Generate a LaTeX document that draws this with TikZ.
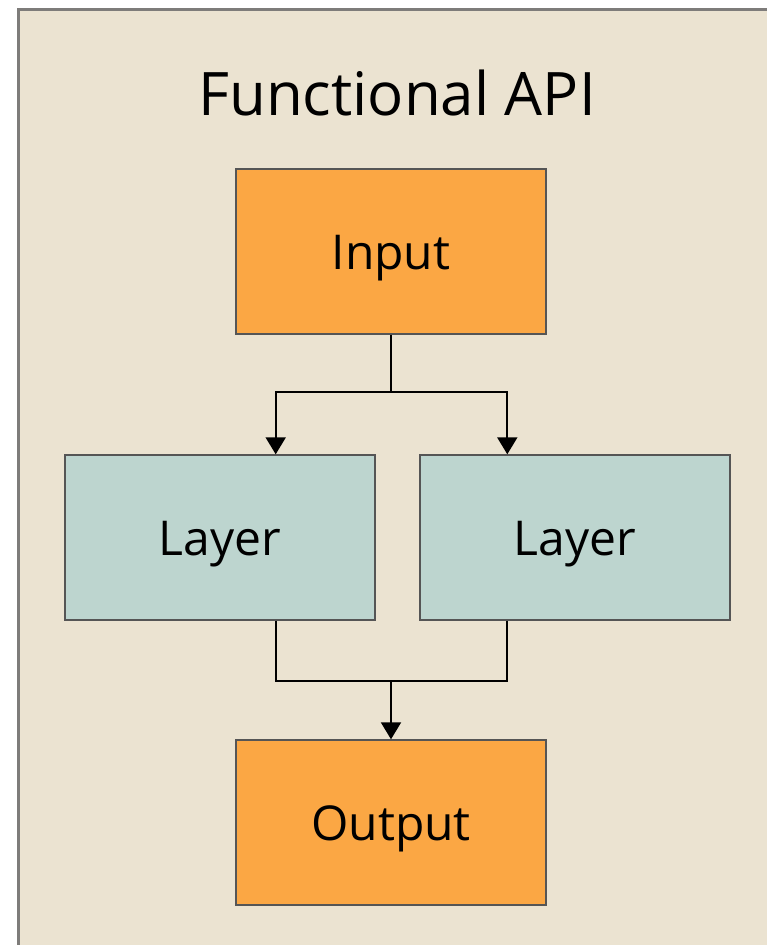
\documentclass[tikz,border=0pt]{standalone}
\usepackage{fontspec}
\setmainfont{Open Sans}
\usetikzlibrary{arrows.meta}
\definecolor{panelbg}{HTML}{EBE3D1}
\definecolor{panelrim}{HTML}{7E7C7A}
\definecolor{ioorange}{HTML}{FBA744}
\definecolor{layerteal}{HTML}{BDD5CF}
\definecolor{boxrim}{HTML}{555555}
\tikzset{
  px/.style={x=1pt,y=-1pt},
  block/.style={draw=boxrim, line width=1.4pt, inner sep=0pt,
    minimum width=310pt, minimum height=165pt,
    font=\fontsize{48}{55}\selectfont, text height=35pt, text depth=0pt},
  iobox/.style={block, fill=ioorange},
  layerbox/.style={block, fill=layerteal},
  link/.style={line width=2pt, draw=black},
  tip/.style={-{Triangle[length=17pt,width=20pt]}}
}
\begin{document}
\begin{tikzpicture}[px]
  \useasboundingbox (0,0) rectangle (767,945);
  % background panel with rim on top and left
  \fill[panelbg] (18,9) rectangle (767,945);
  \draw[panelrim, line width=3pt] (18.5,945) -- (18.5,9.5) -- (767,9.5);
  % title
  \node[anchor=base, font=\fontsize{60}{68}\selectfont] (title) at (397,115) {Functional API};
  % blocks
  \node[iobox] (input) at (391,251.5) {Input};
  \node[layerbox] (layerL) at (220,537.5) {Layer};
  \node[layerbox] (layerR) at (575,537.5) {Layer};
  \node[iobox] (output) at (391,822.5) {Output};
  % fan out
  \coordinate (split) at (391,392);
  \draw[link] (input.south) -- (split);
  \draw[link, tip] (split) -| ([xshift=-100pt]layerL.north east);
  \draw[link, tip] (split) -| ([xshift=88pt]layerR.north west);
  % merge
  \coordinate (join) at (391,681);
  \draw[link] ([xshift=-100pt]layerL.south east) |- (join);
  \draw[link] ([xshift=88pt]layerR.south west) |- (join);
  \draw[link, tip] (join) -- (output.north);
\end{tikzpicture}
\end{document}
